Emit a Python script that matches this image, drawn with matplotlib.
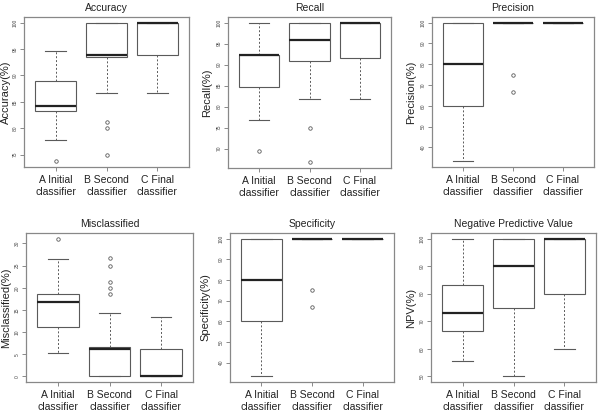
import matplotlib
matplotlib.use("Agg")
import matplotlib.pyplot as plt

plt.rcParams['font.family'] = ['Liberation Sans', 'DejaVu Sans']

groups = ['A Initial\nclassifier', 'B Second\nclassifier', 'C Final\nclassifier']

# five-number summaries per classifier: (whislo, q1, med, q3, whishi)
acc_stats = [(77.8, 83.3, 84.2, 88.9, 94.7), (86.7, 93.4, 93.8, 100, 100), (86.7, 93.8, 100, 100, 100)]
acc_out = [[73.7], [81.2, 80.0, 75.0], []]

rec_stats = [(76.9, 84.6, 92.3, 92.3, 100), (81.8, 90.9, 95.9, 100, 100), (81.8, 91.6, 100, 100, 100)]
rec_out = [[69.3], [75.0, 66.7], []]

pre_stats = [(33.3, 60, 80, 100, 100), (100, 100, 100, 100, 100), (100, 100, 100, 100, 100)]
pre_out = [[], [75.0, 66.7], []]

mis_stats = [(5.2, 11.1, 16.7, 18.7, 26.5), (0, 0, 6.3, 6.7, 14.2), (0, 0, 0, 6.25, 13.3)]
mis_out = [[31.1], [26.6, 25.0, 21.4, 20.0, 18.7], []]

spe_stats = [(33.3, 60, 80, 100, 100), (100, 100, 100, 100, 100), (100, 100, 100, 100, 100)]
spe_out = [[], [75.0, 66.7], []]

npv_stats = [(55.5, 66.6, 73.1, 83.3, 100), (50, 75, 90, 100, 100), (60, 80, 100, 100, 100)]
npv_out = [[], [], []]

panels = [
    ("Accuracy", "Accuracy(%)", acc_stats, acc_out, 5),
    ("Recall", "Recall(%)", rec_stats, rec_out, 5),
    ("Precision", "Precision(%)", pre_stats, pre_out, 10),
    ("Misclassified", "Misclassified(%)", mis_stats, mis_out, 5),
    ("Specificity", "Specificity(%)", spe_stats, spe_out, 10),
    ("Negative Predictive Value", "NPV(%)", npv_stats, npv_out, 10),
]

# frame boxes in pixels: left, top, right, bottom ; x of ylabel's right edge
W, H = 600, 413
frames = [(24, 17, 189, 167, 11), (228, 17, 391, 168, 212), (432, 17, 594, 167, 416),
          (26, 233, 193, 382, 11), (230, 233, 394, 382, 210), (431, 233, 596, 382, 416)]

fig = plt.figure(figsize=(6, 4.13), dpi=100)

line_c = '#5a5a5a'
for (title, ylab, stats, outl, step), (l, t, r, b, lx) in zip(panels, frames):
    ax = fig.add_axes([l / W, 1 - b / H, (r - l) / W, (b - t) / H])
    bx = []
    for s, o in zip(stats, outl):
        bx.append(dict(whislo=s[0], q1=s[1], med=s[2], q3=s[3], whishi=s[4], fliers=o))
    ax.bxp(bx, positions=[1, 2, 3], widths=0.8, patch_artist=True,
           boxprops=dict(facecolor='white', edgecolor=line_c, linewidth=0.8),
           medianprops=dict(color='#222222', linewidth=1.6, solid_capstyle='butt'),
           whiskerprops=dict(color=line_c, linewidth=0.7, linestyle=(0, (2, 2))),
           capprops=dict(color=line_c, linewidth=0.8),
           capwidths=0.4,
           flierprops=dict(marker='o', markersize=2.5, markerfacecolor='none',
                           markeredgecolor=line_c, markeredgewidth=0.6))
    ax.set_xlim(0.38, 3.62)
    ax.margins(y=0.04)
    ax.yaxis.set_major_locator(plt.MultipleLocator(step))
    ax.set_xticks([1, 2, 3])
    ax.set_xticklabels(groups, fontsize=7.5, color='#222222', linespacing=1.15)
    ax.tick_params(axis='x', length=3, width=0.6, color='#777777', pad=3)
    ax.tick_params(axis='y', length=3, width=0.6, color='#777777', labelsize=3.5,
                   labelrotation=90, pad=1.5, labelcolor='#444444')
    for lab in ax.get_yticklabels():
        lab.set_va('center')
    for sp in ax.spines.values():
        sp.set_color('#888888')
        sp.set_linewidth(0.9)
    ax.set_title(title, fontsize=7.5, color='#222222', pad=4)
    ax.set_ylabel(ylab, fontsize=8, color='#222222')
    ax.yaxis.set_label_coords((lx - l) / (r - l), 0.5)

fig.savefig('out.png', dpi=100, facecolor='white')
